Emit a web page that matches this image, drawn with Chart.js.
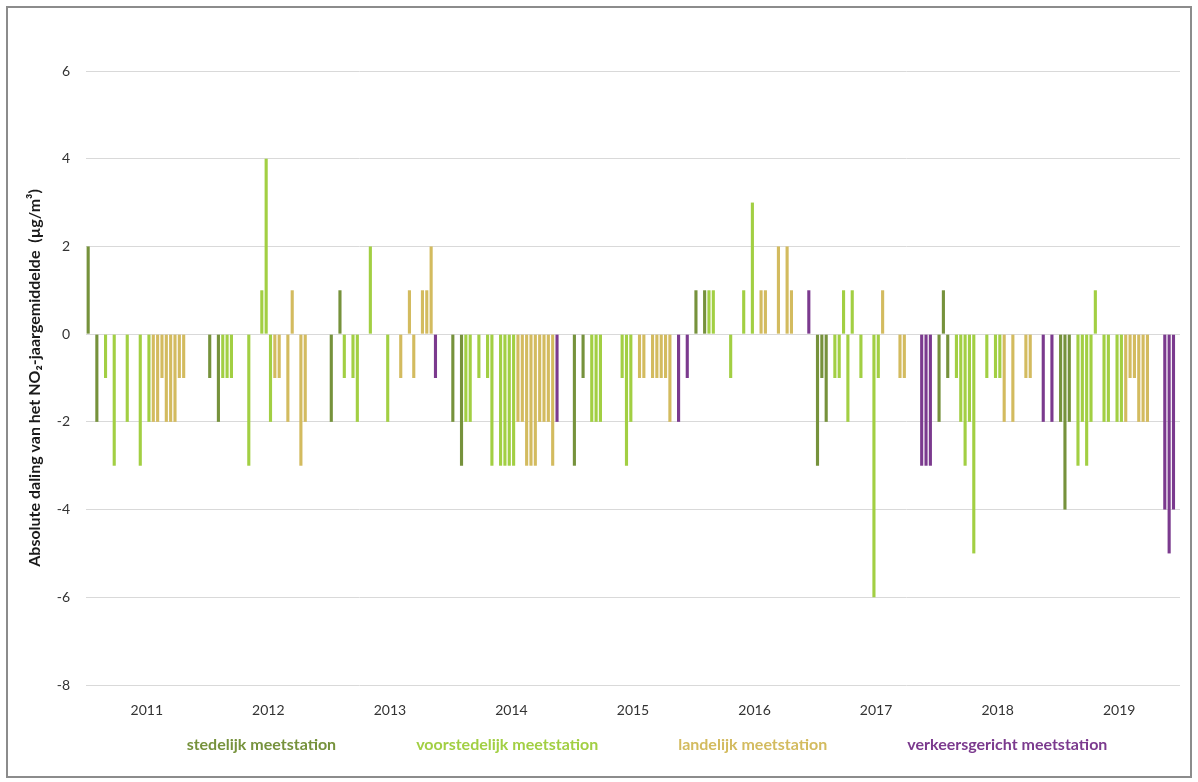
<!DOCTYPE html>
<html>
<head>
<meta charset="utf-8">
<script src="https://cdn.jsdelivr.net/npm/chart.js@4.4.1/dist/chart.umd.min.js"></script>
<style>
  html, body { margin: 0; padding: 0; background: #fff; }
  #wrap { position: relative; width: 1198px; height: 782px; }
  #wrap canvas { position: absolute; left: 0; top: 0; }
  #frame { position: absolute; left: 6px; top: 6px; width: 1182px; height: 768px;
           border: 2px solid #8c8c8c; pointer-events: none; }
</style>
</head>
<body>
<div id="wrap">
  <canvas id="chart" width="1198" height="782"></canvas>
  <div id="frame"></div>
</div>
<script>
// years on the axis
const years = ['2011', '2012', '2013', '2014', '2015', '2016', '2017', '2018', '2019'];

// station type per station slot (S = stedelijk, V = voorstedelijk, L = landelijk, T = verkeersgericht)
const stationTypes = ['S', 'S', 'S',
  'V', 'V', 'V', 'V', 'V', 'V', 'V', 'V', 'V', 'V', 'V', 'V',
  'L', 'L', 'L', 'L', 'L', 'L', 'L', 'L', 'L',
  'T', 'T', 'T'];

// absolute decrease of the NO2 annual mean per station (µg/m³)
const d2011 = [2, 0, -2, 0, -1, 0, -3, 0, 0, -2, 0, 0, -3, 0, -2, -2, -2, -1, -2, -2, -2, -1, -1, 0, 0, 0, 0];
const d2012 = [-1, 0, -2, -1, -1, -1, 0, 0, 0, -3, 0, 0, 1, 4, -2, -1, -1, 0, -2, 1, 0, -3, -2, 0, 0, 0, 0];
const d2013 = [-2, 0, 1, -1, 0, -1, -2, 0, 0, 2, 0, 0, 0, -2, 0, 0, -1, 0, 1, -1, 0, 1, 1, 2, -1, 0, 0];
const d2014 = [-2, 0, -3, -2, -2, 0, -1, 0, -1, -3, 0, -3, -3, -3, -3, -2, -2, -3, -3, -3, -2, -2, -2, -3, -2, 0, 0];
const d2015 = [-3, 0, -1, 0, -2, -2, -2, 0, 0, 0, 0, -1, -3, -2, 0, -1, -1, 0, -1, -1, -1, -1, -2, 0, -2, 0, -1];
const d2016 = [1, 0, 1, 1, 1, 0, 0, 0, -1, 0, 0, 1, 0, 3, 0, 1, 1, 0, 0, 2, 0, 2, 1, 0, 0, 0, 1];
const d2017 = [-3, -1, -2, 0, -1, -1, 1, -2, 1, 0, -1, 0, 0, -6, -1, 1, 0, 0, 0, -1, -1, 0, 0, 0, -3, -3, -3];
const d2018 = [-2, 1, -1, 0, -1, -2, -3, -2, -5, 0, 0, -1, 0, -1, -1, -2, 0, -2, 0, 0, -1, -1, 0, 0, -2, 0, -2];
const d2019 = [-2, -4, -2, 0, -3, -2, -3, -2, 1, 0, -2, -2, 0, -2, -2, -2, -1, -1, -2, -2, -2, 0, 0, 0, -4, -5, -4];

const yearValues = [d2011, d2012, d2013, d2014, d2015, d2016, d2017, d2018, d2019];

const seriesInfo = [
  { code: 'S', label: 'stedelijk meetstation', color: '#76923c' },
  { code: 'V', label: 'voorstedelijk meetstation', color: '#a2cf43' },
  { code: 'L', label: 'landelijk meetstation', color: '#d3bb5f' },
  { code: 'T', label: 'verkeersgericht meetstation', color: '#7b3a8e' }
];

const FONT = 'Lato, "Open Sans", sans-serif';

// one slot per station plus one empty slot between years
const slotsPerYear = stationTypes.length + 1;
const slotLabels = [];
years.forEach(y => {
  for (let i = 0; i < slotsPerYear; i++) slotLabels.push(y + '-' + i);
});

const datasets = seriesInfo.map(s => {
  const data = [];
  yearValues.forEach(vals => {
    for (let i = 0; i < slotsPerYear; i++) {
      data.push(i < stationTypes.length && stationTypes[i] === s.code ? vals[i] : null);
    }
  });
  return {
    label: s.label,
    data: data,
    backgroundColor: s.color,
    borderWidth: 0,
    grouped: false,
    categoryPercentage: 1,
    barPercentage: 0.72
  };
});

new Chart(document.getElementById('chart').getContext('2d'), {
  type: 'bar',
  data: { labels: slotLabels, datasets: datasets },
  options: {
    responsive: false,
    animation: false,
    devicePixelRatio: 1,
    layout: { padding: { left: 44, right: 18, top: 71, bottom: 19 } },
    plugins: {
      tooltip: { enabled: false },
      legend: {
        position: 'bottom',
        labels: {
          // an invisible box in front of each label spaces the entries out
          boxWidth: 62,
          boxHeight: 1,
          padding: 10,
          font: { family: FONT, size: 16, weight: 'bold' },
          generateLabels: chart => chart.data.datasets.map((ds, i) => ({
            text: ds.label,
            fontColor: ds.backgroundColor,
            fillStyle: 'rgba(0,0,0,0)',
            strokeStyle: 'rgba(0,0,0,0)',
            lineWidth: 0,
            hidden: false,
            datasetIndex: i
          }))
        }
      }
    },
    scales: {
      x: { display: false, offset: true, grid: { display: false } },
      years: {
        type: 'category',
        labels: years,
        position: 'bottom',
        offset: true,
        grid: { display: false, drawTicks: false },
        border: { display: false },
        ticks: { padding: 17, color: '#333333', font: { family: FONT, size: 14 } },
        afterFit: s => { s.height = 42; }
      },
      y: {
        min: -8,
        max: 6,
        ticks: { stepSize: 2, padding: 16, color: '#333333', font: { family: FONT, size: 14 } },
        grid: { color: '#d9d9d9', drawTicks: false },
        border: { display: false },
        title: {
          display: true,
          text: 'Absolute daling van het NO\u2082-jaargemiddelde  (\u00b5g/m\u00b3)',
          color: '#1a1a1a',
          font: { family: FONT, size: 16, weight: 'bold' },
          // the axis box starts right of the title, so it sits in the left margin
          padding: { top: -19, bottom: 0 }
        },
        afterFit: s => { s.width = 42; }
      }
    }
  }
});
</script>
</body>
</html>
